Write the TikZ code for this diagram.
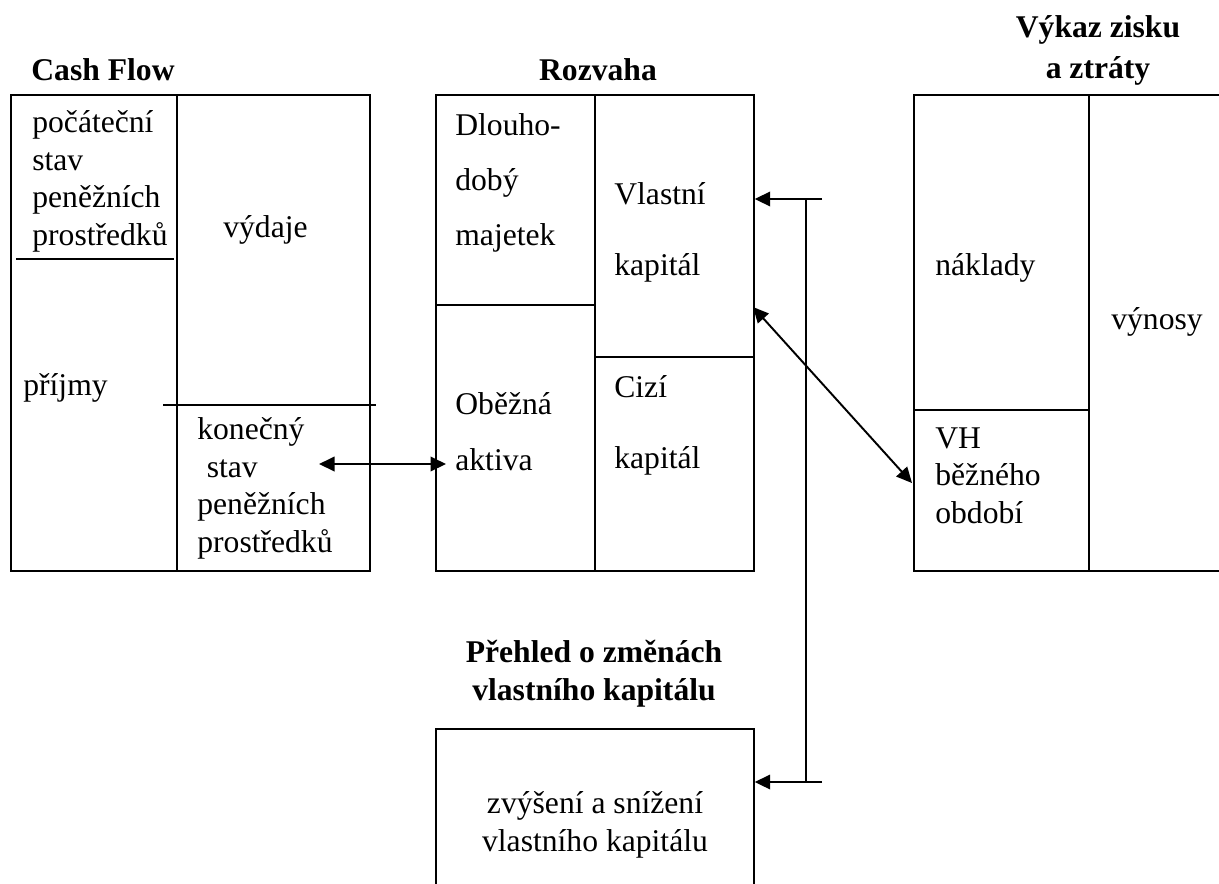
\documentclass[tikz,border=0pt]{standalone}
\usepackage{fontspec}
\setmainfont{Liberation Serif}
\usepackage{tikz}
\usetikzlibrary{positioning,arrows.meta}

\tikzset{tri/.tip={Triangle[length=3.1mm,width=2.9mm]}}

\begin{document}
\begin{tikzpicture}[
  x=0.02cm, y=-0.02cm,
  every node/.style={font=\fontsize{18}{21.3}\selectfont},
  box/.style={draw, line width=1pt, inner sep=0, anchor=north west,
              minimum height=9.52cm},
  txt/.style={inner sep=0, anchor=base west, align=left},
  ttl/.style={inner sep=0, anchor=base, align=center},
  hdr/.style={ttl, font=\fontsize{18}{21.3}\selectfont\bfseries},
  sep/.style={line width=1pt},
  arr/.style={-tri, line width=1.1pt},
  dbl/.style={tri-tri, line width=1.1pt},
]
  \useasboundingbox (0,0) rectangle (1219,883);
  \clip (0,0) rectangle (1219,883);

  \node[hdr] (cftitle) at (103,80) {Cash Flow};
  \node[hdr] (rztitle) at (598,80) {Rozvaha};
  \node[hdr] (vztitle) at (1098,78) {Výkaz zisku\\[2pt]a ztráty};
  \node[hdr] (pztitle) at (594,700) {Přehled o změnách\\vlastního kapitálu};

  \node[box, minimum width=7.18cm] (cf) at (10,94) {};
  \node[box, minimum width=6.36cm] (rz) at (435,94) {};
  \node[box, minimum width=8cm] (vz) at (913,94) {};
  \node[box, minimum width=6.36cm, minimum height=4cm] (pz) at (435,728) {};

  \draw[sep] (177,94) -- (177,572);
  \draw[sep] (16,259) -- (174,259);
  \draw[sep] (163,405) -- (376,405);
  \draw[sep] (rz.north) -- (rz.south);
  \draw[sep] (rz.west |- 0,305) -- (594,305);
  \draw[sep] (594,357) -- (rz.east |- 0,357);
  \draw[sep] (1089,94) -- (1089,570);
  \draw[sep] (vz.west |- 0,410) -- (1089,410);

  \node[txt] (pocatek) at (32,245) {počáteční\\stav\\peněžních\\prostředků};
  \node[txt] (vydaje) at (223,237) {výdaje};
  \node[txt] (prijmy) at (23,395) {příjmy};
  \node[txt] (konec) at (197,552) {konečný\\\hspace*{0.3em}stav\\peněžních\\prostředků};

  \node[txt] (dlouho) at (455,245) {Dlouho-\\[10pt]dobý\\[10pt]majetek};
  \node[txt] (vlastni) at (614,275) {Vlastní\\[19pt]kapitál};
  \node[txt] (obezna) at (455,470) {Oběžná\\[10.5pt]aktiva};
  \node[txt] (cizi) at (614,468) {Cizí\\[19pt]kapitál};

  \node[txt] (naklady) at (935,275) {náklady};
  \node[txt] (vynosy) at (1111,329) {výnosy};
  \node[txt] (vh) at (935,523) {VH\\běžného\\období};

  \node[ttl] (zmeny) at (595,851) {zvýšení a snížení\\vlastního kapitálu};

  \coordinate (cfin) at (319,464);
  \coordinate (rzin) at (446,464);
  \coordinate (vkap) at (753,307);
  \coordinate (vhin) at (912,483);
  \coordinate (brtop) at (822,199);
  \coordinate (brbot) at (822,782);

  \draw[dbl] (cfin) -- (rzin);
  \draw[dbl] (vkap) -- (vhin);
  \draw[arr] (brtop) -- (rz.east |- brtop);
  \draw[arr] (brbot) -- (pz.east |- brbot);
  \draw[line width=1.1pt] (brtop -| 806,0) -- (brbot -| 806,0);
\end{tikzpicture}
\end{document}
